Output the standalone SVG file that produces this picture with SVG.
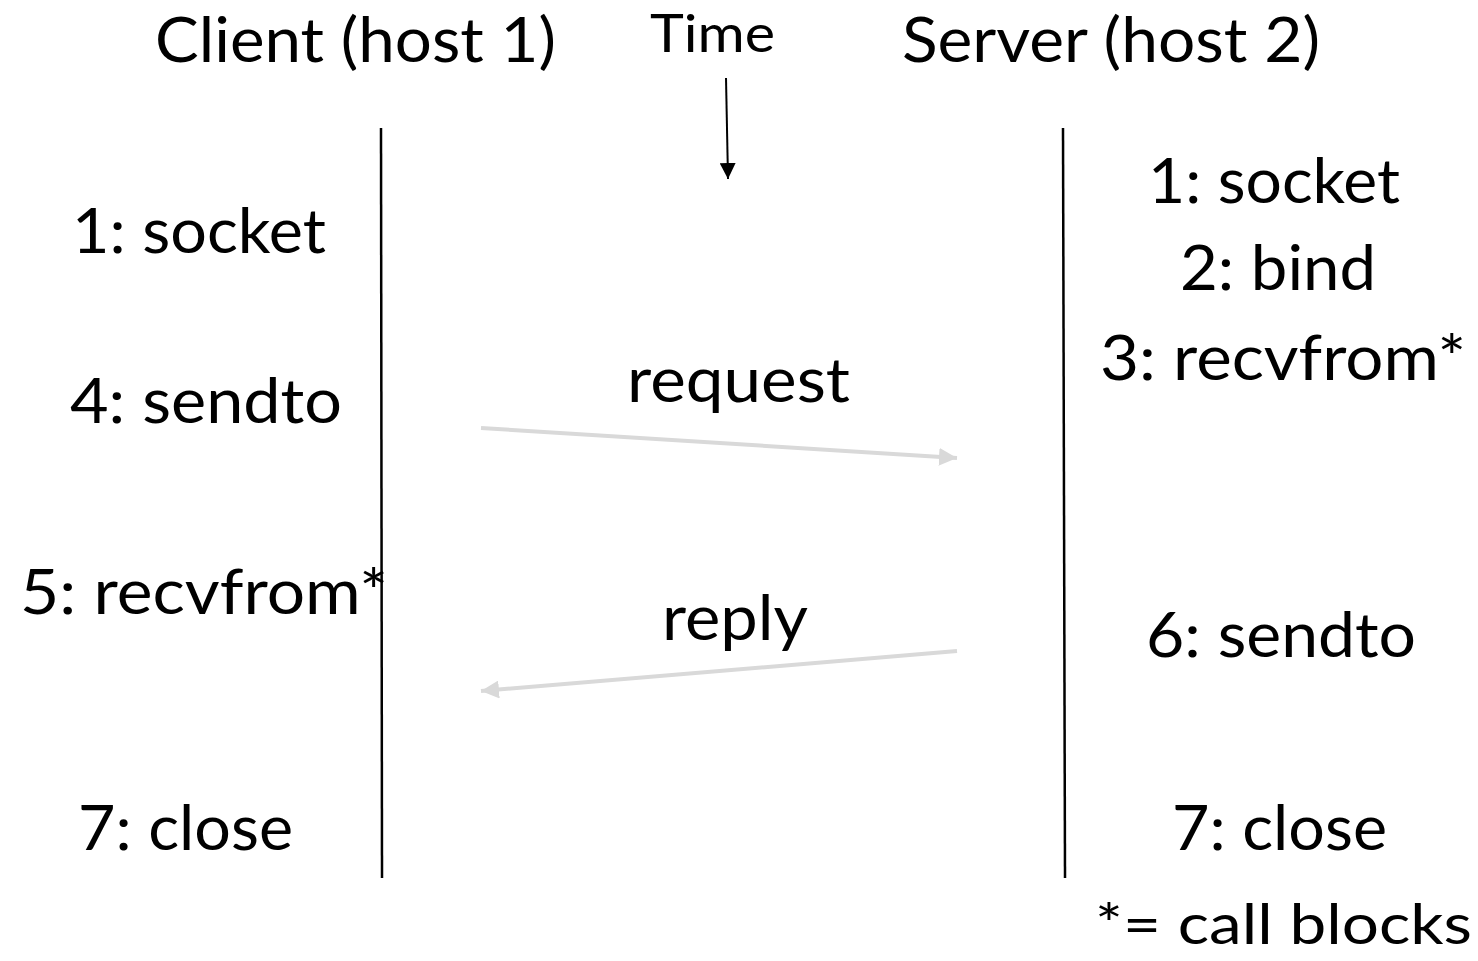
<svg xmlns="http://www.w3.org/2000/svg" width="1478" height="961" viewBox="0 0 1478 961">
<style>
text{font-family:Lato,"Open Sans","Liberation Sans",sans-serif;fill:#000;}
.big{font-size:62px;}
.mid{font-size:52px;}
.note{font-size:57px;}
.life{stroke:#000;stroke-width:2.5;fill:none;}
.msg{stroke:#d9d9d9;stroke-width:4;fill:none;}
</style>
<defs>
<marker id="ga" viewBox="0 0 10 10" refX="10" refY="5" markerWidth="4.5" markerHeight="4.5" orient="auto" markerUnits="strokeWidth"><path d="M0,0 L10,5 L0,10 Z" fill="#d9d9d9"/></marker>
<marker id="ba" viewBox="0 0 10 10" refX="10" refY="5" markerWidth="8" markerHeight="8" orient="auto" markerUnits="strokeWidth"><path d="M0,0 L10,5 L0,10 Z" fill="#000"/></marker>
</defs>
<g id="headers">
<text class="big" x="155" y="62" textLength="401" lengthAdjust="spacingAndGlyphs">Client (host 1)</text>
<text class="mid" x="650" y="52" textLength="125" lengthAdjust="spacingAndGlyphs">Time</text>
<text class="big" x="902" y="62" textLength="418" lengthAdjust="spacingAndGlyphs">Server (host 2)</text>
</g>
<g id="client">
<text class="big" x="72" y="253" textLength="254" lengthAdjust="spacingAndGlyphs">1: socket</text>
<text class="big" x="70" y="423" textLength="272" lengthAdjust="spacingAndGlyphs">4: sendto</text>
<text class="big" x="20" y="614" textLength="368" lengthAdjust="spacingAndGlyphs">5: recvfrom*</text>
<text class="big" x="78" y="850" textLength="215" lengthAdjust="spacingAndGlyphs">7: close</text>
</g>
<g id="server">
<text class="big" x="1148" y="203" textLength="252" lengthAdjust="spacingAndGlyphs">1: socket</text>
<text class="big" x="1180" y="290" textLength="196" lengthAdjust="spacingAndGlyphs">2: bind</text>
<text class="big" x="1100" y="380" textLength="366" lengthAdjust="spacingAndGlyphs">3: recvfrom*</text>
<text class="big" x="1146" y="657" textLength="270" lengthAdjust="spacingAndGlyphs">6: sendto</text>
<text class="big" x="1172" y="850" textLength="215" lengthAdjust="spacingAndGlyphs">7: close</text>
<text class="note" x="1095" y="944" textLength="377" lengthAdjust="spacingAndGlyphs">*= call blocks</text>
</g>
<g id="connectors">
<line class="life" x1="381" y1="128" x2="382" y2="878"/>
<line class="life" x1="1063" y1="128" x2="1065" y2="878"/>
<line x1="726" y1="78" x2="728" y2="179" stroke="#000" stroke-width="2" marker-end="url(#ba)"/>
<line class="msg" x1="481" y1="428" x2="957" y2="458" marker-end="url(#ga)"/>
<line class="msg" x1="957" y1="651" x2="481" y2="691" marker-end="url(#ga)"/>
<text class="big" x="627" y="402" textLength="223" lengthAdjust="spacingAndGlyphs">request</text>
<text class="big" x="662" y="640" textLength="146" lengthAdjust="spacingAndGlyphs">reply</text>
</g>
</svg>
